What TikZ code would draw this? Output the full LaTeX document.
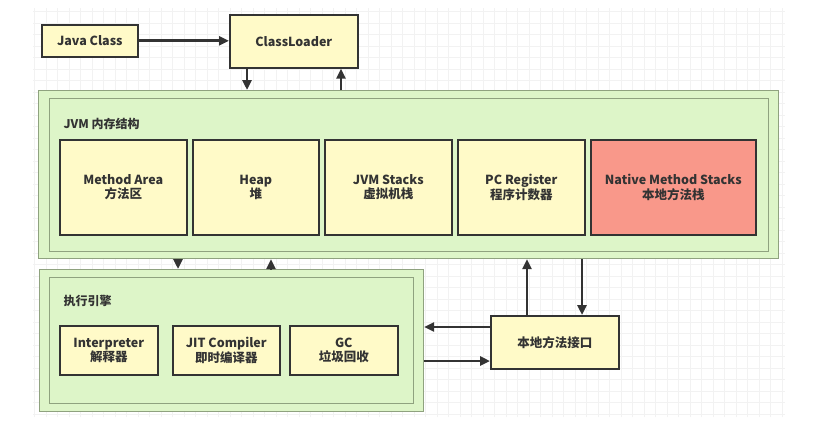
\documentclass[tikz,border=0pt]{standalone}
\usepackage{fontspec}
\setmainfont{Noto Sans CJK SC}
\usetikzlibrary{arrows.meta}
\definecolor{boxyellow}{HTML}{FFFAC8}
\definecolor{boxred}{HTML}{F9988A}
\definecolor{areagreen}{HTML}{DDF5C8}
\definecolor{areaedge}{HTML}{8FA27F}
\definecolor{inkgray}{HTML}{333333}
\tikzset{
	part/.style={draw=inkgray, line width=1.6pt, fill=boxyellow, align=center, font=\fontsize{12.5}{14.5}\selectfont\bfseries, text=inkgray, inner sep=0pt, anchor=north west},
	area/.style={draw=areaedge, line width=1.2pt, fill=areagreen, inner sep=0pt, anchor=north west},
	caption/.style={anchor=west, font=\fontsize{12}{14}\selectfont\bfseries, text=inkgray},
	link/.style={draw=inkgray, line width=2.8pt, -{Triangle[length=10pt,width=9pt]}},
}

\begin{document}
\begin{tikzpicture}[x=1pt, y=-1pt]
			%%%%% START %%%%%
			\useasboundingbox[fill=white] (0, 0) rectangle (840, 437);
			\draw[black!5, line width=0.6pt, step=11.5pt] (33, 8) grid (785, 417);
			
			\node[part, minimum width=96, minimum height=32] (javaclass) at (41, 24) {Java Class};
			\node[part, minimum width=128, minimum height=53] (classloader) at (229, 14) {ClassLoader};
			
			\node[area, minimum width=740, minimum height=168] (jvmouter) at (38, 90) {};
			\node[area, minimum width=719, minimum height=153] (jvminner) at (49, 98) {};
			\node[caption] (jvmlabel) at (60, 124) {JVM 内存结构};
			
			\node[part, minimum width=127, minimum height=95] (method) at (59, 139) {Method Area\\方法区};
			\node[part, minimum width=126, minimum height=95] (heap) at (192, 139) {Heap\\堆};
			\node[part, minimum width=127, minimum height=95] (stacks) at (324, 139) {JVM Stacks\\虚拟机栈};
			\node[part, minimum width=127, minimum height=95] (pcreg) at (457, 139) {PC Register\\程序计数器};
			\node[part, fill=boxred, minimum width=165, minimum height=95] (native) at (590, 139) {Native Method Stacks\\本地方法栈};
			
			\node[area, minimum width=384, minimum height=142] (execouter) at (39, 269) {};
			\node[area, minimum width=364, minimum height=126] (execinner) at (49, 277) {};
			\node[caption] (execlabel) at (60, 301) {执行引擎};
			
			\node[part, minimum width=98, minimum height=49] (interp) at (59, 325) {Interpreter\\解释器};
			\node[part, minimum width=107, minimum height=49] (jit) at (172, 325) {JIT Compiler\\即时编译器};
			\node[part, minimum width=108, minimum height=49] (gc) at (289, 325) {GC\\垃圾回收};
			
			\node[part, minimum width=128, minimum height=53] (nativeif) at (490, 315) {本地方法接口};
			
			\draw[link] (javaclass.east) -- (classloader.west |- javaclass.east);
			\draw[link] (classloader.south -| 247,0) -- (jvmouter.north -| 247,0);
			\draw[link] (jvmouter.north -| 341,0) -- (classloader.south -| 341,0);
			
			\draw[link] (jvmouter.south -| 178,0) -- (execouter.north -| 178,0);
			\draw[link] (execouter.north -| 271,0) -- (jvmouter.south -| 271,0);
			
			\draw[link] (nativeif.west |- 0,327) -- (execouter.east |- 0,327);
			\draw[link] (execouter.east |- 0,361) -- (nativeif.west |- 0,361);
			\draw[link] (nativeif.north -| 527,0) -- (jvmouter.south -| 527,0);
			\draw[link] (jvmouter.south -| 582,0) -- (nativeif.north -| 582,0);
			%%%%% END %%%%%
\end{tikzpicture}
\end{document}
